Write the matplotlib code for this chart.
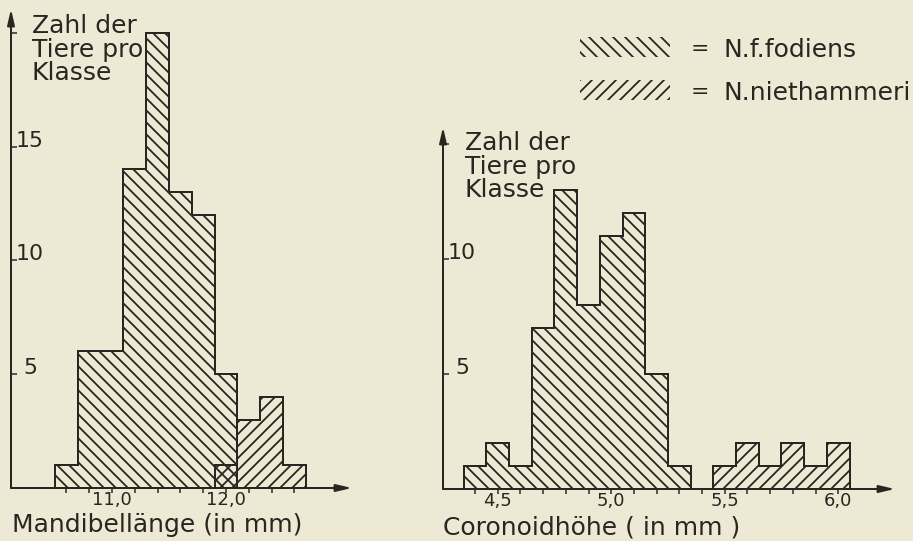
import matplotlib
matplotlib.use("Agg")
import matplotlib.pyplot as plt
from matplotlib.patches import Rectangle

# Daten: Klassenhäufigkeiten (Zahl der Tiere pro Klasse)
# Mandibellänge, Klassenbreite 0,2 mm
mand_fod_edges = [10.5, 10.7, 10.9, 11.1, 11.3, 11.5, 11.7, 11.9, 12.1]
mand_fod_counts = [1, 6, 6, 14, 20, 13, 12, 5]
mand_nie_edges = [11.9, 12.1, 12.3, 12.5, 12.7]
mand_nie_counts = [1, 3, 4, 1]
mand_ticks = [10.6, 10.8, 11.0, 11.2, 11.4, 11.6, 11.8, 12.0, 12.2, 12.4, 12.6]
mand_ticklabels = ["", "", "11,0", "", "", "", "", "12,0", "", "", ""]

# Coronoidhöhe, Klassenbreite 0,1 mm
cor_fod_edges = [4.35, 4.45, 4.55, 4.65, 4.75, 4.85, 4.95, 5.05, 5.15, 5.25, 5.35]
cor_fod_counts = [1, 2, 1, 7, 13, 8, 11, 12, 5, 1]
cor_nie_edges = [5.45, 5.55, 5.65, 5.75, 5.85, 5.95, 6.05]
cor_nie_counts = [1, 2, 1, 2, 1, 2]
cor_ticks = [4.4, 4.5, 4.6, 4.7, 4.8, 4.9, 5.0, 5.1, 5.2, 5.3, 5.4,
             5.5, 5.6, 5.7, 5.8, 5.9, 6.0]
cor_ticklabels = ["", "4,5", "", "", "", "", "5,0", "", "", "", "",
                  "5,5", "", "", "", "", "6,0"]

mand_yticks = [5, 10, 15, 20]
mand_yticklabels = ["5", "10", "15", ""]
cor_yticks = [5, 10, 15]
cor_yticklabels = ["5", "10", ""]

bg = "#ede9d5"
ink = "#2a2521"
hatch_fod = "\\\\"
hatch_nie = "//"

plt.rcParams["hatch.linewidth"] = 1.8
plt.rcParams["font.family"] = ["DejaVu Sans"]

W, H = 913, 541
fig = plt.figure(figsize=(W / 72, H / 72), dpi=72)
fig.patch.set_facecolor(bg)


def px_axes(x0, x1, y_base, y_top):
    return fig.add_axes([x0 / W, (H - y_base) / H, (x1 - x0) / W, (y_base - y_top) / H])


def style_axes(ax, yticks, yticklabels, xticks, xticklabels):
    ax.set_facecolor("none")
    for s in ax.spines.values():
        s.set_visible(False)
    # Achsen mit Pfeilen
    arrow = dict(arrowstyle="-|>,head_length=1.3,head_width=0.3", lw=2,
                 color=ink, shrinkA=0, shrinkB=0, mutation_scale=10)
    ax.annotate("", xy=(1, 0), xytext=(0, 0), xycoords="axes fraction", arrowprops=arrow)
    ax.annotate("", xy=(0, 1), xytext=(0, 0), xycoords="axes fraction", arrowprops=arrow)

    ax.set_yticks(yticks, yticklabels)
    ax.tick_params(axis="y", direction="in", length=6, width=1.5, colors=ink,
                   labelsize=22, pad=-19)
    plt.setp(ax.get_yticklabels(), ha="center", va="baseline")

    ax.set_xticks(xticks, xticklabels)
    ax.tick_params(axis="x", direction="out", length=5, width=1.5, colors=ink,
                   labelsize=18, pad=-2)


# linkes Diagramm: Mandibellänge
ax1 = px_axes(11, 352, 488, 9)
ax1.stairs(mand_fod_counts, mand_fod_edges, fill=True, facecolor="none",
           edgecolor=ink, hatch=hatch_fod, linewidth=2)
ax1.stairs(mand_nie_counts, mand_nie_edges, fill=True, facecolor="none",
           edgecolor=ink, hatch=hatch_nie, linewidth=2)
ax1.set_xlim(10.114, 13.105)
ax1.set_ylim(0, 21.05)
style_axes(ax1, mand_yticks, mand_yticklabels, mand_ticks, mand_ticklabels)

# rechtes Diagramm: Coronoidhöhe
ax2 = px_axes(443, 895, 489, 127)
ax2.stairs(cor_fod_counts, cor_fod_edges, fill=True, facecolor="none",
           edgecolor=ink, hatch=hatch_fod, linewidth=2)
ax2.stairs(cor_nie_counts, cor_nie_edges, fill=True, facecolor="none",
           edgecolor=ink, hatch=hatch_nie, linewidth=2)
ax2.set_xlim(4.259, 6.250)
ax2.set_ylim(0, 15.74)
style_axes(ax2, cor_yticks, cor_yticklabels, cor_ticks, cor_ticklabels)

# Beschriftungen (Anker = Grundlinie der letzten Zeile)
ylab = "Zahl der\nTiere pro\nKlasse"
fig.text(32 / W, 1 - 80 / H, ylab, ha="left", va="baseline", fontsize=25,
         color=ink, linespacing=0.97)
fig.text(465 / W, 1 - 197 / H, ylab, ha="left", va="baseline", fontsize=25,
         color=ink, linespacing=0.97)
fig.text(12 / W, 1 - 532 / H, "Mandibellänge (in mm)", ha="left", va="baseline",
         fontsize=25, color=ink)
fig.text(443 / W, 1 - 534 / H, "Coronoidhöhe ( in mm )", ha="left", va="baseline",
         fontsize=25, color=ink)

# Legende
legend_rows = [(hatch_fod, "N.f.fodiens", 57), (hatch_nie, "N.niethammeri", 100)]
for hatch, name, base in legend_rows:
    fig.add_artist(Rectangle((580 / W, 1 - base / H), 90 / W, 20 / H,
                             transform=fig.transFigure, facecolor="none",
                             edgecolor=ink, linewidth=0, hatch=hatch))
    fig.text(700 / W, 1 - (base - 2) / H, "=", ha="center", va="baseline",
             fontsize=22, color=ink)
    fig.text(724 / W, 1 - base / H, name, ha="left", va="baseline",
             fontsize=25, color=ink)

fig.savefig("out.png", dpi=72, facecolor=fig.get_facecolor())
